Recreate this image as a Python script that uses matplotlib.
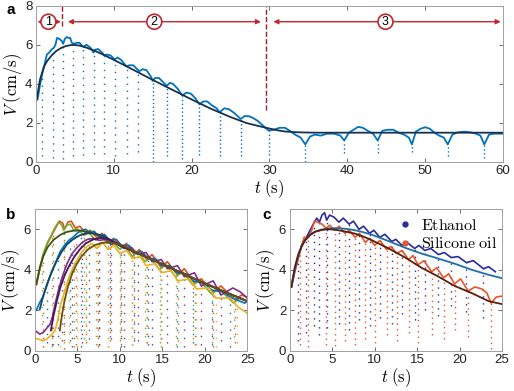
import numpy as np
import matplotlib.pyplot as plt

plt.rcParams['mathtext.fontset'] = 'cm'
plt.rcParams['font.family'] = ['Liberation Sans', 'DejaVu Sans']

# ---------------- panel a data ----------------
t_a = [0.2, 0.5, 0.8, 1.1, 1.4, 1.7, 2.0, 2.3, 2.5, 2.7, 3.0, 3.3, 3.5, 3.7, 3.95, 4.2, 4.4, 4.6,
       4.9, 5.2, 5.6, 5.9, 6.1, 6.5, 7.0, 7.4, 7.6, 8.0, 8.5, 8.8, 9.1, 9.6, 10.1, 10.5, 11.0, 11.6,
       12.0, 12.5, 13.0, 13.3, 13.7, 14.2, 14.8, 15.0, 15.3, 15.8, 16.3, 16.8, 17.2, 17.6, 18.2,
       18.8, 19.3, 19.9, 20.5, 21.0, 21.5, 22.0, 22.6, 23.2, 23.6, 24.2, 24.8, 25.5, 26.3, 26.8,
       27.3, 27.9, 28.5, 29.2, 29.9, 30.5, 31.3, 32.0, 32.6, 33.3, 34.0, 34.6, 35.2, 35.8, 36.6,
       37.4, 38.3, 39.1, 39.6, 40.2, 40.8, 41.4, 42.0, 42.6, 43.3, 43.9, 44.5, 45.2, 45.9, 46.6,
       47.3, 47.9, 48.3, 48.8, 49.4, 50.0, 50.6, 51.2, 51.8, 52.4, 52.9, 53.5, 54.2, 55.0, 55.8,
       56.5, 57.1, 57.6, 58.2, 58.8, 59.4, 60.0]
v_a = [3.2, 3.9, 4.5, 5.0, 5.5, 5.6, 5.75, 5.85, 6.0, 6.35, 6.3, 6.2, 6.05, 6.3, 6.4, 6.35, 6.35, 6.1,
       6.05, 6.1, 6.1, 5.95, 5.9, 6.0, 5.85, 5.6, 5.75, 5.78, 5.6, 5.45, 5.5, 5.45, 5.25, 5.35, 5.2, 4.9,
       4.95, 4.95, 4.75, 4.65, 4.75, 4.7, 4.35, 4.15, 4.3, 4.3, 4.1, 3.9, 4.05, 4.0, 3.75,
       3.4, 3.55, 3.5, 3.25, 2.95, 3.1, 3.1, 2.9, 2.75, 2.55, 2.75, 2.7, 2.5, 2.2, 2.35,
       2.35, 2.25, 2.1, 1.85, 1.6, 1.65, 1.75, 1.75, 1.6, 1.4, 1.25, 0.9, 1.3, 1.4, 1.35,
       1.45, 1.45, 1.35, 1.1, 1.5, 1.65, 1.8, 1.75, 1.6, 1.45, 1.1, 1.6, 1.65, 1.65, 1.5,
       1.4, 1.25, 0.9, 1.55, 1.7, 1.78, 1.7, 1.5, 1.35, 1.25, 0.9, 1.4, 1.52, 1.55, 1.52,
       1.45, 1.35, 0.9, 1.4, 1.45, 1.45, 1.45]
# sparse dip columns (early bounces) and dense dips
dipa_t = [0.8, 2.2, 3.5, 4.8, 6.0, 7.4, 8.8, 10.2, 11.7, 13.1]
dipa_lo = [0.3, 0.2, 0.15, 0.3, 0.35, 0.4, 0.4, 0.3, 0.4, 0.5]
dipa_hi = [4.5, 5.8, 6.05, 6.05, 5.9, 5.6, 5.45, 5.25, 4.9, 4.65]
dipa2_t = [15.0, 16.8, 18.8, 21.0, 23.6, 26.3, 29.9, 34.6, 39.6, 43.9, 48.3, 52.9, 57.6]
dipa2_lo = [0.0, 0.3, 0.15, 0.35, 0.3, 0.3, 0.35, 0.0, 0.45, 0.45, 0.5, 0.3, 0.2]
dipa2_hi = [4.15, 3.9, 3.4, 2.95, 2.55, 2.2, 1.6, 0.9, 1.1, 1.1, 0.9, 0.9, 0.9]
fit_a_t = [0.1, 0.5, 1.0, 1.4, 2.0, 2.6, 3.2, 3.8, 4.4, 5.0, 5.7, 6.5, 7.5, 8.5, 10, 12.5, 15, 17.5,
           20, 22.5, 25, 27, 28.5, 29.7, 30.8, 31.8, 33, 34.5, 36, 40, 50, 60]
fit_a_v = [3.2, 4.2, 4.85, 5.15, 5.45, 5.68, 5.83, 5.93, 5.98, 5.99, 5.95, 5.85, 5.7, 5.52, 5.23,
           4.72, 4.2, 3.7, 3.2, 2.72, 2.3, 2.0, 1.85, 1.74, 1.64, 1.57, 1.53, 1.51, 1.5, 1.5, 1.5, 1.5]

# ---------------- panel b data ----------------
b_names = ['orange', 'green', 'blue', 'purple', 'yellow']
b_colors = ['#D95319', '#77AC30', '#0072BD', '#7E2F8E', '#EDB120']
b_t = [
    [0.2, 0.6, 1.0, 1.5, 2.0, 2.5, 2.9, 3.3, 3.5, 3.9, 4.3, 4.8, 5.3, 6.0, 6.5, 7.4, 7.9, 8.8, 9.3, 10.2,
     10.8, 11.7, 12.3, 13.2, 13.8, 14.9, 15.6, 16.8, 17.6, 18.8, 19.6, 21.0, 21.9, 23.6, 24.3, 25.0],
    [0.2, 0.6, 1.0, 1.5, 2.0, 2.4, 2.8, 3.2, 3.4, 3.8, 4.2, 4.6, 5.1, 5.8, 6.3, 7.2, 7.7, 8.6, 9.1, 10.0,
     10.6, 11.5, 12.1, 13.0, 13.6, 14.7, 15.4, 16.6, 17.4, 18.6, 19.4, 20.8, 21.7, 23.4, 24.1, 25.0],
    [0.2, 0.5, 1.0, 1.5, 2.0, 2.5, 3.0, 3.5, 4.0, 4.5, 5.0, 5.5, 6.0, 6.4, 7.0, 7.6, 8.2, 8.8, 9.6, 10.2,
     11.1, 11.7, 12.6, 13.3, 14.2, 14.9, 15.9, 16.7, 17.8, 18.6, 19.9, 20.8, 22.2, 23.0, 24.7, 25.0],
    [0.2, 0.6, 1.0, 1.4, 1.8, 2.1, 2.4, 2.8, 3.2, 3.8, 4.4, 5.0, 5.6, 6.2, 6.9, 7.6, 8.3, 9.0, 9.8, 10.5,
     11.4, 12.1, 13.1, 13.8, 14.9, 15.6, 16.8, 17.6, 18.8, 19.6, 21.0, 21.9, 23.3, 24.2, 25.0],
    [0.2, 0.6, 1.0, 1.5, 2.0, 2.4, 2.7, 3.0, 3.5, 4.0, 4.5, 5.0, 5.5, 6.0, 6.7, 7.3, 8.0, 8.6, 9.3, 10.0,
     10.8, 11.5, 12.4, 13.1, 14.2, 14.9, 16.1, 16.8, 18.2, 19.0, 20.5, 21.3, 23.0, 23.8, 25.0],
]
b_v = [
    [3.25, 4.0, 4.7, 5.3, 5.7, 6.1, 6.4, 6.3, 6.0, 6.35, 6.4, 6.05, 6.15, 5.8, 5.95, 5.55, 5.8, 5.4, 5.55, 5.1,
     5.3, 4.75, 5.0, 4.5, 4.75, 4.1, 4.4, 3.75, 4.05, 3.35, 3.55, 2.9, 3.2, 2.5, 2.75, 2.65],
    [3.35, 4.1, 4.8, 5.35, 5.75, 6.1, 6.35, 6.2, 5.95, 6.2, 6.25, 5.95, 6.0, 5.7, 5.85, 5.45, 5.65, 5.3, 5.45, 5.0,
     5.2, 4.65, 4.9, 4.4, 4.6, 4.0, 4.25, 3.65, 3.9, 3.25, 3.45, 2.8, 3.05, 2.35, 2.6, 2.45],
    [2.0, 2.3, 2.7, 3.3, 3.9, 4.4, 4.9, 5.2, 5.45, 5.6, 5.8, 5.95, 6.0, 5.85, 5.9, 5.6, 5.75, 5.45, 5.5, 5.2,
     5.2, 4.85, 4.9, 4.55, 4.55, 4.2, 4.2, 3.85, 3.8, 3.45, 3.35, 3.0, 2.9, 2.65, 2.35, 2.45],
    [0.95, 0.82, 0.9, 1.1, 1.3, 1.7, 2.3, 3.0, 3.6, 4.3, 4.8, 5.1, 5.35, 5.5, 5.55, 5.45, 5.5, 5.25, 5.35, 5.05,
     5.1, 4.75, 4.85, 4.4, 4.5, 4.05, 4.2, 3.65, 3.85, 3.2, 3.45, 2.75, 3.1, 2.9, 2.6],
    [0.6, 0.55, 0.5, 0.6, 0.8, 1.0, 1.5, 2.2, 2.9, 3.6, 4.1, 4.5, 4.85, 5.1, 5.3, 5.05, 5.35, 5.0, 5.2, 4.8,
     4.95, 4.55, 4.65, 4.2, 4.3, 3.85, 3.95, 3.45, 3.55, 3.05, 3.1, 2.6, 2.6, 2.2, 1.85],
]
b_dip_t = [
    [1.0, 2.2, 3.5, 4.8, 6.0, 7.4, 8.8, 10.2, 11.7, 13.2, 14.9, 16.8, 18.8, 21.0, 23.6],
    [0.9, 2.0, 3.4, 4.6, 5.8, 7.2, 8.6, 10.0, 11.5, 13.0, 14.7, 16.6, 18.6, 20.8, 23.4],
    [1.5, 2.8, 4.2, 5.5, 6.4, 7.6, 8.8, 10.2, 11.7, 13.3, 14.9, 16.7, 18.6, 20.8, 23.0],
    [2.0, 3.2, 4.4, 5.6, 7.6, 9.0, 10.5, 12.1, 13.8, 15.6, 17.6, 19.6, 21.9],
    [3.0, 4.0, 5.0, 6.0, 7.3, 8.6, 10.0, 11.5, 13.1, 14.9, 16.8, 19.0, 21.3, 23.8],
]
b_dip_lo = [
    [0.2, 0.3, 0.1, 0.3, 0.4, 0.2, 0.5, 0.3, 0.6, 0.4, 0.2, 0.5, 0.3, 0.2, 0.4],
    [0.5, 0.2, 0.4, 0.2, 0.6, 0.3, 0.2, 0.5, 0.3, 0.7, 0.4, 0.3, 0.6, 0.4, 0.7],
    [0.4, 0.3, 0.5, 0.2, 0.6, 0.3, 0.7, 0.2, 0.5, 0.3, 0.6, 0.2, 0.4, 0.3, 0.2],
    [0.3, 0.5, 0.2, 0.4, 0.3, 0.6, 0.2, 0.5, 0.3, 0.4, 0.2, 0.3, 0.5],
    [0.2, 0.4, 0.2, 0.5, 0.3, 0.2, 0.6, 0.3, 0.4, 0.2, 0.5, 0.3, 0.2, 0.4],
]
b_dip_hi = [
    [4.7, 5.9, 6.0, 6.05, 5.8, 5.55, 5.4, 5.1, 4.75, 4.5, 4.1, 3.75, 3.35, 2.9, 2.5],
    [4.7, 5.75, 5.95, 5.95, 5.7, 5.45, 5.3, 5.0, 4.65, 4.4, 4.0, 3.65, 3.25, 2.8, 2.35],
    [3.3, 4.7, 5.5, 5.95, 5.85, 5.6, 5.45, 5.2, 4.85, 4.55, 4.2, 3.85, 3.45, 3.0, 2.65],
    [1.5, 3.6, 4.8, 5.35, 5.45, 5.25, 5.05, 4.75, 4.4, 4.05, 3.65, 3.2, 2.75],
    [2.2, 3.6, 4.5, 5.1, 5.05, 5.0, 4.8, 4.55, 4.2, 3.85, 3.45, 3.05, 2.6, 2.2],
]
# fitted curves in b (orange/green share one)
bfit_colors = ['#3d5218', '#14476a', '#4a1858', '#6b5210']
bfit_t = [
    [0.2, 0.6, 1.0, 1.5, 2.2, 3.0, 3.8, 4.6, 5.4, 6.5, 8.0, 10, 12.5, 15, 17.5, 20, 22.5, 25],
    [0.6, 1.0, 1.5, 2.0, 2.6, 3.2, 3.8, 4.5, 5.3, 6.1, 7.0, 8.0, 10, 12.5, 15, 17.5, 20, 22.5, 25],
    [1.9, 2.2, 2.6, 3.0, 3.5, 4.0, 4.6, 5.3, 6.0, 6.9, 7.8, 8.7, 10, 12.5, 15, 17.5, 20, 22.5, 25],
    [2.95, 3.2, 3.5, 3.9, 4.4, 4.9, 5.5, 6.2, 7.0, 7.8, 8.6, 9.5, 10.5, 12.5, 15, 17.5, 20, 22.5, 25],
]
bfit_v = [
    [3.3, 4.1, 4.65, 5.1, 5.47, 5.72, 5.87, 5.93, 5.93, 5.85, 5.62, 5.2, 4.75, 4.28, 3.8, 3.33, 2.88, 2.45],
    [2.05, 2.7, 3.35, 3.9, 4.45, 4.9, 5.25, 5.5, 5.7, 5.8, 5.8, 5.68, 5.2, 4.75, 4.28, 3.8, 3.33, 2.88, 2.45],
    [1.0, 1.7, 2.45, 3.1, 3.7, 4.15, 4.6, 5.0, 5.3, 5.5, 5.57, 5.52, 5.22, 4.75, 4.28, 3.8, 3.33, 2.88, 2.45],
    [1.0, 1.75, 2.45, 3.15, 3.8, 4.25, 4.65, 4.98, 5.2, 5.32, 5.35, 5.3, 5.18, 4.75, 4.28, 3.8, 3.33, 2.88, 2.45],
]

# ---------------- panel c data ----------------
eth_t = [0.2, 0.6, 1.0, 1.4, 1.9, 2.4, 2.9, 3.2, 3.5, 3.8, 4.1, 4.35, 4.7, 5.2, 5.8, 6.3, 7.0, 7.5, 8.15,
         8.7, 9.4, 9.9, 10.6, 11.2, 12.0, 12.5, 13.2, 13.8, 14.7, 15.2, 15.9, 16.6, 17.5, 18.2, 19.0,
         19.8, 20.8, 21.6, 22.8, 23.4, 24.2]
eth_v = [3.15, 3.9, 4.55, 5.2, 5.55, 5.95, 6.35, 6.55, 6.35, 6.7, 6.82, 6.45, 6.7, 6.6, 6.35, 6.55, 6.25,
         6.4, 6.0, 6.15, 5.8, 5.95, 5.6, 5.75, 5.4, 5.5, 5.2, 5.35, 5.05, 5.2, 4.95, 5.05, 4.75, 4.85,
         4.6, 4.65, 4.35, 4.45, 4.05, 4.15, 3.9]
eth_dip_t = [1.0, 1.9, 2.9, 3.5, 4.35, 5.8, 7.0, 8.15, 9.4, 10.6, 12.0, 13.2, 14.7, 15.9, 17.5, 19.0, 20.8, 22.8]
eth_dip_lo = [0.5, 0.9, 1.2, 0.8, 1.1, 1.3, 1.0, 1.5, 1.2, 1.6, 1.3, 1.8, 1.5, 2.0, 1.7, 2.2, 1.9, 1.6]
eth_dip_hi = [4.55, 5.55, 6.35, 6.35, 6.45, 6.35, 6.25, 6.0, 5.8, 5.6, 5.4, 5.2, 5.05, 4.95, 4.75, 4.6, 4.35, 4.05]

sil_t = [0.2, 0.6, 1.2, 1.7, 2.2, 2.6, 2.9, 3.3, 3.8, 4.3, 4.7, 5.3, 5.8, 6.5, 7.0, 7.7, 8.2, 8.9, 9.4,
         10.0, 10.6, 11.4, 11.9, 12.6, 13.2, 14.0, 14.5, 15.1, 15.8, 16.7, 17.3, 18.1, 18.7, 19.4,
         20.1, 21.0, 21.8, 22.6, 23.2, 23.7, 24.3, 25.0]
sil_v = [3.15, 3.95, 4.9, 5.6, 5.6, 5.95, 6.4, 6.35, 6.25, 6.05, 6.2, 5.95, 6.15, 5.8, 5.95, 5.6, 5.8,
         5.35, 5.55, 5.2, 5.45, 5.0, 5.15, 4.8, 4.95, 4.5, 4.7, 4.25, 4.45, 3.9, 4.1, 3.6, 3.8, 3.3,
         3.55, 2.95, 3.15, 3.05, 2.85, 2.35, 2.65, 2.7]
sil_dip_t = [1.2, 2.2, 4.3, 5.3, 6.5, 7.7, 8.9, 10.0, 11.4, 12.6, 14.0, 15.1, 16.7, 18.1, 19.4, 21.0, 23.7]
sil_dip_lo = [0.3, 0.2, 0.3, 0.25, 0.5, 0.3, 0.6, 0.4, 0.8, 0.5, 0.9, 0.4, 0.8, 0.6, 1.0, 0.7, 0.1]
sil_dip_hi = [4.9, 5.6, 6.05, 5.95, 5.8, 5.6, 5.35, 5.2, 5.0, 4.8, 4.5, 4.25, 3.9, 3.6, 3.3, 2.95, 2.35]

fit_c_t = [0.2, 0.6, 1.0, 1.4, 1.8, 2.4, 3.0, 3.7, 4.5, 5.3, 6.1, 7.0, 7.7, 8.6, 9.6, 11.6, 13.6, 15.5,
           17.5, 19.4, 21.4, 23.4, 25.0]
fit_eth_v = [3.15, 4.1, 4.73, 5.15, 5.45, 5.72, 5.88, 5.98, 6.04, 6.05, 6.04, 6.0, 5.95, 5.86, 5.74,
             5.42, 5.08, 4.8, 4.55, 4.3, 4.0, 3.75, 3.58]
fit_sil_v = [3.15, 4.1, 4.73, 5.15, 5.45, 5.72, 5.88, 5.96, 6.0, 5.98, 5.92, 5.85, 5.78, 5.65, 5.47,
             5.06, 4.6, 4.1, 3.66, 3.2, 2.85, 2.45, 2.3]

red = '#c1272d'
dashred = '#9b2226'
spine_c = '#a0a0a0'


def style_axes(ax):  # MATLAB-like box with inward ticks on all sides
    ax.tick_params(direction='in', top=True, right=True, length=3, width=0.6,
                   color='#555555', labelsize=9.5, labelcolor='#222222', pad=2.5)
    for s in ax.spines.values():
        s.set_color(spine_c)
        s.set_linewidth(0.7)


def dips(ax, t, lo, hi, color, gap):  # bounce samples drawn as dotted columns
    for ti, l, h in zip(t, lo, hi):
        ax.plot([ti, ti], [l, h], color=color, lw=1.0, linestyle=(0, (1, gap)))


fig = plt.figure(figsize=(5.14, 3.91), dpi=100)
ax_a = fig.add_axes([0.070, 0.5857, 0.9086, 0.3997])
ax_b = fig.add_axes([0.0675, 0.103, 0.4135, 0.3625])
ax_c = fig.add_axes([0.5636, 0.103, 0.4134, 0.3625])

# panel a
dips(ax_a, dipa_t, dipa_lo, dipa_hi, '#0072BD', 4)
dips(ax_a, dipa2_t, dipa2_lo, dipa2_hi, '#0072BD', 1.8)
ax_a.plot(t_a, v_a, color='#0072BD', lw=1.3)
ax_a.plot(fit_a_t, fit_a_v, color='#16324f', lw=1.3)
ax_a.set_xlim(0, 60)
ax_a.set_ylim(0, 8)
ax_a.set_xticks(range(0, 61, 10))
ax_a.set_yticks(range(0, 9, 2))
ax_a.set_ylabel(r'$V\;(\mathrm{cm/s})$', fontsize=12, labelpad=1)
ax_a.set_xlabel(r'$t\;(\mathrm{s})$', fontsize=12, labelpad=0)
style_axes(ax_a)

# regions 1, 2, 3
ax_a.plot([3.4, 3.4], [6.95, 8], '--', color=dashred, lw=1)
ax_a.plot([29.5, 29.5], [2.65, 8], '--', color=dashred, lw=1)
for x1, x2, xc, lab in [(0.2, 3.2, 1.6, '1'), (4.1, 28.9, 15.2, '2'), (30.5, 59.7, 44.9, '3')]:
    ax_a.annotate('', xy=(x2, 7.18), xytext=(x1, 7.18),
                  arrowprops=dict(arrowstyle='<|-|>', color=red, lw=1, mutation_scale=7,
                                  shrinkA=0, shrinkB=0))
    ax_a.text(xc, 7.18, lab, ha='center', va='center', fontsize=9,
              bbox=dict(boxstyle='circle,pad=0.12', fc='white', ec=red, lw=1.2))

# panel b
for i in range(5):
    dips(ax_b, b_dip_t[i], b_dip_lo[i], b_dip_hi[i], b_colors[i], 5)
for i in range(5):
    ax_b.plot(b_t[i], b_v[i], color=b_colors[i], lw=1.2)
for i in range(4):
    ax_b.plot(bfit_t[i], bfit_v[i], color=bfit_colors[i], lw=1.3)

# panel c
dips(ax_c, eth_dip_t, eth_dip_lo, eth_dip_hi, '#2a2a9e', 4)
dips(ax_c, sil_dip_t, sil_dip_lo, sil_dip_hi, '#e8562a', 3)
ax_c.plot(eth_t, eth_v, color='#2a2a9e', lw=1.2)
ax_c.plot(sil_t, sil_v, color='#e8562a', lw=1.2)
ax_c.plot(fit_c_t, fit_eth_v, color='#1f6fa8', lw=1.3)
ax_c.plot(fit_c_t, fit_sil_v, color='#5b1f0a', lw=1.3)
ax_c.plot([], [], 'o', color='#2a2a9e', ms=3.5, label=r'$\mathrm{Ethanol}$')
ax_c.plot([], [], 'o', color='#e8562a', ms=3.5, label=r'$\mathrm{Silicone\ oil}$')
ax_c.legend(loc='upper right', bbox_to_anchor=(1.0, 0.97), frameon=False, fontsize=11.5,
            handlelength=0.6, handletextpad=0.7, labelspacing=0.2, borderaxespad=0.1,
            borderpad=0.2)

for ax in (ax_b, ax_c):
    ax.set_xlim(0, 25)
    ax.set_ylim(0, 7)
    ax.set_xticks(range(0, 26, 5))
    ax.set_yticks(range(0, 7, 2))
    ax.set_xlabel(r'$t\;(\mathrm{s})$', fontsize=12, labelpad=0)
    style_axes(ax)
ax_b.set_ylabel(r'$V\;(\mathrm{cm/s})$', fontsize=12, labelpad=1)
ax_c.set_ylabel(r'$V\;(\mathrm{cm/s})$', fontsize=12, labelpad=1)

# panel letters
fig.text(0.012, 0.975, 'a', fontsize=11, fontweight='bold', va='center')
fig.text(0.012, 0.45, 'b', fontsize=11, fontweight='bold', va='center')
fig.text(0.510, 0.45, 'c', fontsize=11, fontweight='bold', va='center')

fig.savefig('out.png', dpi=100)
